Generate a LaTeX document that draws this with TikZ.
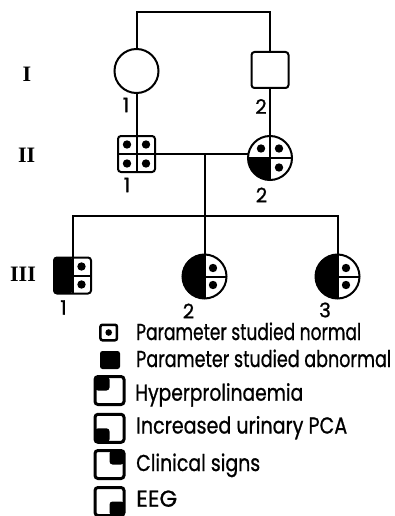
\documentclass[tikz,border=0pt]{standalone}
\usepackage{fontspec}
\usepackage{graphicx}
\setmainfont{Poppins}
\newfontfamily\pfont[FakeBold=0.9]{Poppins}
\newfontfamily\genfont{Liberation Serif}
\newcommand{\legfont}{\pfont\fontsize{23}{25}\selectfont}
\newcommand{\labfont}{\pfont\fontsize{20}{22}\selectfont}
\newcommand{\genfontsize}{\genfont\bfseries\fontsize{22}{24}\selectfont}
\newcommand{\fitw}[2]{\resizebox{#1}{\height}{#2}}
\tikzset{
  ln/.style={line width=2pt},
  fem/.style={circle, draw, line width=2pt, minimum size=44pt, inner sep=0pt, outer sep=0pt},
  mal/.style={rectangle, rounded corners=3pt, draw, line width=2pt, minimum width=37pt, minimum height=36pt, inner sep=0pt, outer sep=0pt},
  lab/.style={font=\labfont, inner sep=0pt},
  gen/.style={font=\genfontsize, inner sep=0pt},
  legtxt/.style={font=\legfont, anchor=base west, inner sep=0pt},
  legbox/.style={rectangle, rounded corners=3pt, draw, line width=3pt, minimum width=29pt, minimum height=28pt, inner sep=0pt, outer sep=0pt},
  legsmall/.style={rectangle, rounded corners=2pt, draw, line width=2.5pt, minimum width=16.5pt, minimum height=15.5pt, inner sep=0pt, outer sep=0pt},
  legblack/.style={rectangle, rounded corners=2.5pt, fill, minimum width=20pt, minimum height=18pt, inner sep=0pt, outer sep=0pt},
  qTL/.style={path picture={\fill (path picture bounding box.north west) rectangle (path picture bounding box.center);}},
  qBL/.style={path picture={\fill (path picture bounding box.south west) rectangle (path picture bounding box.center);}},
  qTR/.style={path picture={\fill (path picture bounding box.north east) rectangle (path picture bounding box.center);}},
  qBR/.style={path picture={\fill (path picture bounding box.south east) rectangle (path picture bounding box.center);}},
  halfL/.style={path picture={\fill (path picture bounding box.north west) rectangle (path picture bounding box.south);}},
}
\begin{document}
\begin{tikzpicture}[x=1pt,y=-1pt]
\useasboundingbox (0,0) rectangle (395,516);

% generation I
\node[fem] (I1) at (136.5,71) {};
\node[mal] (I2) at (270,70) {};
% generation II
\node[mal] (II1) at (136.5,154) {};
\node[fem, qBL] (II2) at (270,158) {};
% generation III
\node[mal, halfL] (III1) at (72.5,275.5) {};
\node[fem, halfL] (III2) at (204.5,276.5) {};
\node[fem, halfL] (III3) at (337.5,276.5) {};

% inner divisions
\draw[ln] (II1.north) -- (II1.south);
\draw[ln] (II1.west) -- (II1.east);
\foreach \dx/\dy in {-9.5/-9.5, 9.5/-9.5, -9.5/9.5, 9.5/9.5}
  \fill (II1.center) ++(\dx,\dy) circle[radius=4.2];
\draw[ln] (II2.north) -- (II2.south);
\draw[ln] (II2.west) -- (II2.east);
\foreach \dx/\dy in {-9/-9.5, 9/-9.5, 9/9.5}
  \fill (II2.center) ++(\dx,\dy) circle[radius=4.2];
\foreach \n in {III1, III2, III3} {
  \draw[ln] (\n.north) -- (\n.south);
  \draw[ln] (\n.center) -- (\n.east);
}
\foreach \dy in {-9, 9} \fill (III1.center) ++(9,\dy) circle[radius=4.2];
\foreach \n in {III2, III3}
  \foreach \dy in {-8.5, 8.5} \fill (\n.center) ++(8.5,\dy) circle[radius=4.2];

% connectors
\coordinate (topL) at (136.5,12);
\coordinate (topR) at (270,12);
\draw[ln] (I1.north) -- (topL) -- (topR) -- (I2.north);
\draw[ln] (I1.south) -- (II1.north);
\draw[ln] (I2.south) -- (II2.north);
\draw[ln] (II1.east) -- (II1.east -| II2.west);
\coordinate (mar) at (204.5,154);
\coordinate (sib) at (204.5,216);
\draw[ln] (mar) -- (sib);
\draw[ln] (III1.north) |- (sib) -| (III3.north);
\draw[ln] (sib) -- (III2.north);

% individual numbers
\node[lab] (nI1) at (126,105) {1};
\node[lab] (nI2) at (261,106.5) {2};
\node[lab] (nII1) at (127,185) {1};
\node[lab] (nII2) at (261.5,195) {2};
\node[lab] (nIII1) at (63.5,307.5) {1};
\node[lab] (nIII2) at (188.5,311) {2};
\node[lab] (nIII3) at (325,310) {3};

% generation numerals
\node[gen] (gI) at (27,74) {I};
\node[gen] (gII) at (26.7,155.7) {II};
\node[gen] (gIII) at (23,274) {III};

% legend
\node[legsmall] (bN) at (108.7,332.5) {};
\fill (bN.center) circle[radius=3.3];
\node[legblack] (bA) at (110,360) {};
\node[legbox, qTL] (bH) at (109.5,390.5) {};
\node[legbox, qBL] (bP) at (109.5,428.3) {};
\node[legbox, qTR] (bC) at (109.5,464.5) {};
\node[legbox, qBR] (bE) at (109.5,501.5) {};

\node[legtxt] (tN) at (136,340) {\fitw{225pt}{Parameter studied normal}};
\node[legtxt] (tA) at (136,367) {\fitw{255pt}{Parameter studied abnormal}};
\node[legtxt] (tH) at (135,400.7) {\fitw{168pt}{Hyperprolinaemia}};
\node[legtxt] (tP) at (136,433.5) {\fitw{211pt}{Increased urinary PCA}};
\node[legtxt] (tC) at (136,471) {\fitw{124pt}{Clinical signs}};
\node[legtxt] (tE) at (136,506.7) {\fitw{41pt}{EEG}};
\end{tikzpicture}
\end{document}
